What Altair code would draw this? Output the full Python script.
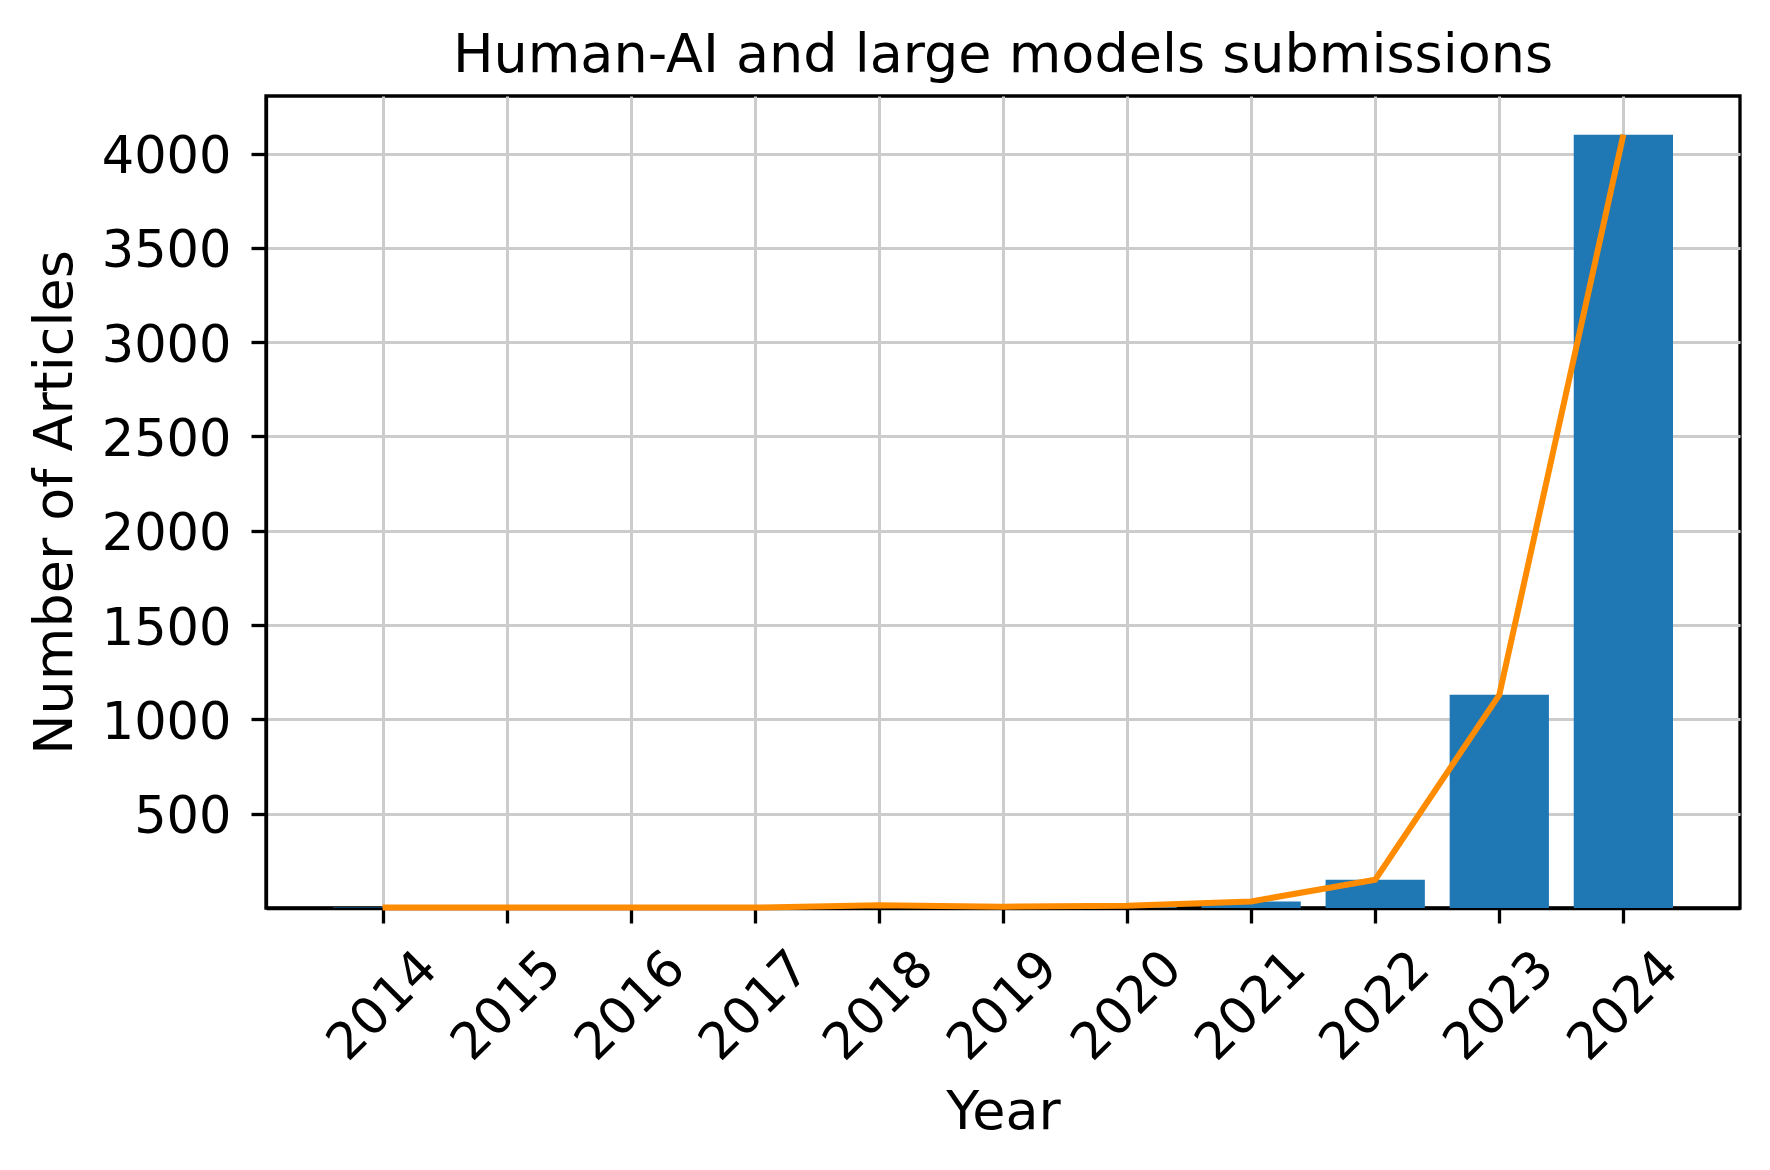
import altair as alt
import pandas as pd

years = [2014, 2015, 2016, 2017, 2018, 2019, 2020, 2021, 2022, 2023, 2024]
counts = [3, 3, 3, 2, 14, 7, 12, 35, 150, 1130, 4100]
y_ticks = [500, 1000, 1500, 2000, 2500, 3000, 3500, 4000]

df = pd.DataFrame({"year": years, "count": counts})

FONT = "DejaVu Sans"
FS_TICK = 51
FS_TITLE = 54

x_scale = alt.Scale(domain=[2013.06, 2024.94], nice=False, zero=False)
y_scale = alt.Scale(domain=[0, 4305], nice=False, zero=True)

x_axis = alt.Axis(
    values=years, format="d", title="Year",
    labelAngle=315, labelAlign="center", labelBaseline="middle",
    labelPadding=83, labelOverlap=False, labelFlush=False,
    labelFont=FONT, labelFontSize=FS_TICK, labelColor="black",
    titleFont=FONT, titleFontSize=FS_TITLE, titleFontWeight="normal", titleColor="black",
    titleY=220, titleBaseline="alphabetic",
    tickSize=15, tickWidth=3.3, tickColor="black",
    domainColor="black", domainWidth=3.3,
    grid=True, gridColor="#cccccc", gridWidth=3,
)
y_axis = alt.Axis(
    values=y_ticks, format="d", title="Number of Articles",
    labelPadding=20, labelOverlap=False, labelFlush=False, labelOffset=4,
    labelFont=FONT, labelFontSize=FS_TICK, labelColor="black",
    titleFont=FONT, titleFontSize=FS_TITLE, titleFontWeight="normal", titleColor="black",
    titleX=-195, titleY=406, titleBaseline="alphabetic", titleAngle=270,
    tickSize=15, tickWidth=3.3, tickColor="black",
    domainColor="black", domainWidth=3.3,
    grid=True, gridColor="#cccccc", gridWidth=3,
)

base = alt.Chart(df).transform_calculate(
    x0="datum.year - 0.4", x1="datum.year + 0.4"
)

bars = base.mark_bar(color="#1f77b4").encode(
    x=alt.X("x0:Q", scale=x_scale, axis=x_axis),
    x2="x1:Q",
    y=alt.Y("count:Q", scale=y_scale, axis=y_axis),
    y2=alt.datum(0),
)

line = base.mark_line(color="#ff8c00", strokeWidth=6).encode(
    x=alt.X("year:Q", scale=x_scale, axis=x_axis),
    y=alt.Y("count:Q", scale=y_scale, axis=y_axis),
)

chart = alt.layer(bars, line).properties(
    width=1474,
    height=812,
    title=alt.TitleParams(
        "Human-AI and large models submissions",
        font=FONT, fontSize=FS_TITLE, fontWeight="normal", color="black",
        anchor="middle", offset=13,
    ),
    padding={"left": 258, "top": 88, "right": 20, "bottom": 240},
    autosize=alt.AutoSizeParams(type="none"),
).configure_view(stroke="black", strokeWidth=3.3)

chart.save("out.html", embed_options={"renderer": "svg", "actions": False})
